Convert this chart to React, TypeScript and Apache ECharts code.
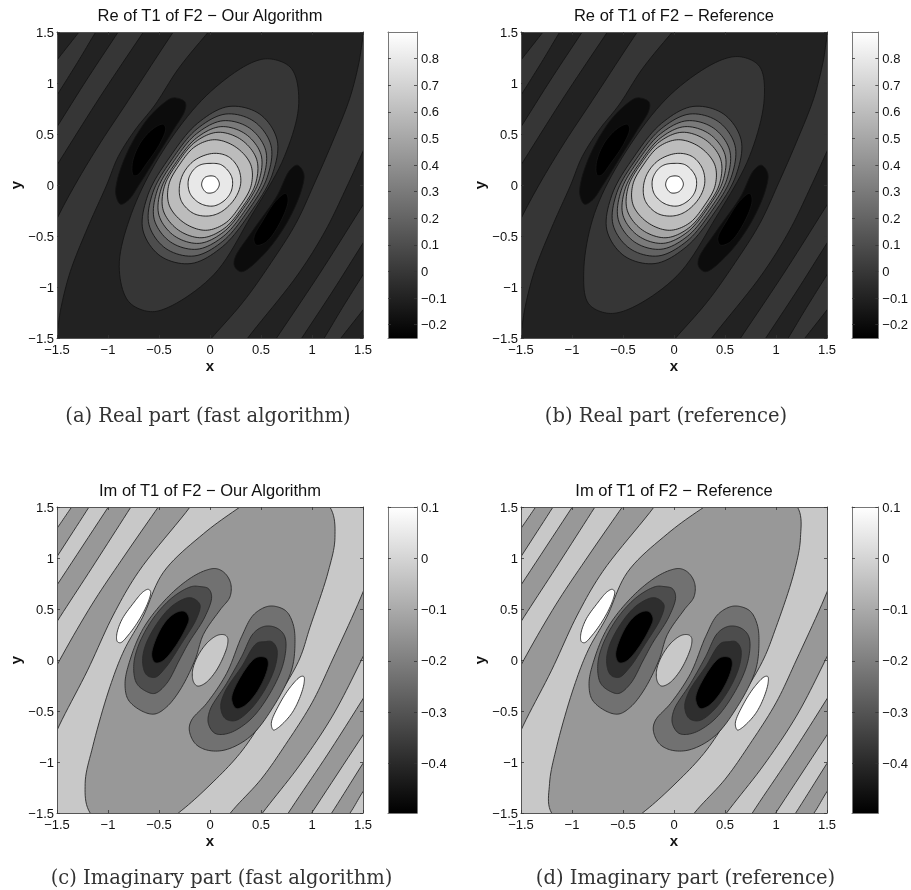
import React, { useEffect, useRef } from "react";
import * as echarts from "echarts";

type Pt = [number, number];

const reBarTicks = [-0.2, -0.1, 0, 0.1, 0.2, 0.3, 0.4, 0.5, 0.6, 0.7, 0.8];
const imBarTicks = [-0.4, -0.3, -0.2, -0.1, 0, 0.1];
const titles = [
  "Re of T1 of F2 − Our Algorithm",
  "Re of T1 of F2 − Reference",
  "Im of T1 of F2 − Our Algorithm",
  "Im of T1 of F2 − Reference",
];
const captions = [
  "(a) Real part (fast algorithm)",
  "(b) Real part (reference)",
  "(c) Imaginary part (fast algorithm)",
  "(d) Imaginary part (reference)",
];

// Grey levels of the filled contours
const reShades = ["#000000", "#0c0c0c", "#222222", "#363636", "#4d4d4d", "#636363", "#7a7a7a", "#909090", "#a6a6a6", "#bcbcbc", "#d2d2d2", "#e8e8e8", "#ffffff"];
const imShades = ["#000000", "#2e2e2e", "#4d4d4d", "#717171", "#989898", "#c8c8c8", "#ffffff"];

// Real part: diagonal contour lines (x, y)
const reL1: Pt[] = [[-1.75, 0.9], [-1.5, 1.225], [-1.284, 1.5], [-1.05, 1.8]];
const reL2: Pt[] = [[-1.75, 0.48], [-1.5, 0.88], [-1.3, 1.2], [-1.12, 1.5], [-0.9, 1.85]];
const reL3: Pt[] = [[-1.75, 0.18], [-1.5, 0.57], [-1.21, 1.03], [-0.9, 1.5], [-0.65, 1.88]];
const reL4: Pt[] = [[-1.75, -0.2], [-1.5, 0.196], [-1.077, 0.865], [-0.653, 1.5], [-0.4, 1.88]];
const reL5: Pt[] = [[-1.62, -0.6], [-1.5, -0.33], [-1.324, 0], [-1.09, 0.39], [-0.8, 0.83], [-0.36, 1.5], [-0.15, 1.8]];
const reL6: Pt[] = [[-1.56, -1.75], [-1.5, -1.45], [-1.46, -1.2], [-1.37, -0.85], [-1.2, -0.42], [-1.013, 0], [-0.9, 0.278], [-0.735, 0.539], [-0.54, 0.784], [-0.31, 1.14], [-0.016, 1.5], [0.2, 1.75]];
const reR1: Pt[] = [[1.05, -1.8], [1.284, -1.5], [1.5, -1.225], [1.75, -0.9]];
const reR2: Pt[] = [[0.9, -1.85], [1.12, -1.5], [1.3, -1.2], [1.5, -0.88], [1.75, -0.48]];
const reR3: Pt[] = [[0.65, -1.88], [0.9, -1.5], [1.21, -1.03], [1.5, -0.57], [1.75, -0.18]];
const reR4: Pt[] = [[0.4, -1.88], [0.653, -1.5], [1.077, -0.865], [1.5, -0.196], [1.75, 0.2]];
const reR5: Pt[] = [[0.15, -1.8], [0.37, -1.5], [0.86, -0.88], [1.13, -0.45], [1.34, -0.02], [1.5, 0.33], [1.62, 0.6]];
const reR6: Pt[] = [[-0.2, -1.75], [0.016, -1.5], [0.33, -1.14], [0.6, -0.76], [0.84, -0.38], [1.03, 0.03], [1.2, 0.42], [1.37, 0.85], [1.46, 1.2], [1.5, 1.45], [1.56, 1.75]];

// Real part: closed contours
const reEllipseA: Pt[] = [[0.8, 1.14], [0.6, 1.235], [0.41, 1.2], [-0.036, 0.876], [-0.467, 0.325], [-0.77, -0.28], [-0.89, -0.8], [-0.8, -1.14], [-0.6, -1.24], [-0.41, -1.2], [0.04, -0.876], [0.4, -0.31], [0.73, 0.28], [0.87, 0.8]];
const reEllipseB: Pt[] = [[0.84, 1.16], [0.66, 1.256], [0.45, 1.22], [-0.03, 0.89], [-0.47, 0.33], [-0.78, -0.28], [-0.885, -0.85], [-0.84, -1.16], [-0.66, -1.256], [-0.45, -1.22], [0.03, -0.89], [0.41, -0.32], [0.74, 0.28], [0.885, 0.85]];
const reLobeTlOuter: Pt[] = [[-0.361, 0.854], [-0.246, 0.815], [-0.246, 0.733], [-0.361, 0.537], [-0.524, 0.276], [-0.687, 0.015], [-0.801, -0.149], [-0.877, -0.188], [-0.922, -0.1], [-0.909, 0.047], [-0.801, 0.341], [-0.622, 0.635], [-0.459, 0.798]];
const reLobeTlInner: Pt[] = [[-0.459, 0.596], [-0.435, 0.553], [-0.491, 0.406], [-0.622, 0.21], [-0.713, 0.096], [-0.752, 0.096], [-0.762, 0.21], [-0.687, 0.406], [-0.556, 0.553]];
const reLobeBrOuter: Pt[] = [[0.857, 0.194], [0.919, 0.113], [0.896, -0.05], [0.75, -0.377], [0.521, -0.687], [0.309, -0.85], [0.243, -0.801], [0.243, -0.72], [0.423, -0.442], [0.652, -0.116], [0.783, 0.145]];
const reLobeBrInner: Pt[] = [[0.743, -0.083], [0.766, -0.148], [0.7, -0.344], [0.553, -0.557], [0.455, -0.589], [0.429, -0.524], [0.521, -0.344], [0.652, -0.148]];
const reRing1: Pt[] = [[0.485, 0.697], [0.186, 0.77], [-0.124, 0.603], [-0.394, 0.274], [-0.608, -0.095], [-0.658, -0.442], [-0.485, -0.697], [-0.186, -0.77], [0.124, -0.603], [0.394, -0.274], [0.608, 0.095], [0.658, 0.442]];
const reRing2: Pt[] = [[0.433, 0.623], [0.156, 0.696], [-0.126, 0.551], [-0.369, 0.257], [-0.56, -0.073], [-0.598, -0.388], [-0.433, -0.623], [-0.156, -0.696], [0.126, -0.551], [0.369, -0.257], [0.56, 0.073], [0.598, 0.388]];
const reRing3: Pt[] = [[0.388, 0.558], [0.128, 0.63], [-0.13, 0.504], [-0.349, 0.242], [-0.518, -0.054], [-0.546, -0.34], [-0.388, -0.558], [-0.128, -0.63], [0.13, -0.504], [0.349, -0.242], [0.518, 0.054], [0.546, 0.34]];
const reRing4: Pt[] = [[0.348, 0.5], [0.106, 0.572], [-0.131, 0.462], [-0.328, 0.228], [-0.479, -0.038], [-0.5, -0.298], [-0.348, -0.5], [-0.106, -0.572], [0.131, -0.462], [0.328, -0.228], [0.479, 0.038], [0.5, 0.298]];
const reRing5: Pt[] = [[0.308, 0.443], [0.079, 0.517], [-0.14, 0.425], [-0.316, 0.219], [-0.448, -0.017], [-0.457, -0.253], [-0.308, -0.443], [-0.079, -0.517], [0.14, -0.425], [0.316, -0.219], [0.448, 0.017], [0.457, 0.253]];
const reRing6: Pt[] = [[0.257, 0.369], [0.046, 0.444], [-0.147, 0.376], [-0.295, 0.205], [-0.403, 0.006], [-0.4, -0.198], [-0.257, -0.369], [-0.046, -0.444], [0.147, -0.376], [0.295, -0.205], [0.403, -0.006], [0.4, 0.198]];
const reRing7: Pt[] = [[0.033, 0.31], [0.18, 0.278], [0.278, 0.163], [0.301, 0.016], [0.245, -0.131], [0.114, -0.261], [-0.016, -0.304], [-0.163, -0.278], [-0.278, -0.163], [-0.301, -0.033], [-0.261, 0.114], [-0.147, 0.245]];
const reRing8: Pt[] = [[0, 0.212], [0.114, 0.196], [0.212, 0.082], [0.212, -0.049], [0.147, -0.147], [0.033, -0.206], [-0.098, -0.18], [-0.196, -0.082], [-0.212, 0.049], [-0.163, 0.147], [-0.098, 0.196]];
const reRing9: Pt[] = [[-0.049, 0.075], [0.049, 0.082], [0.092, 0.009], [0.049, -0.065], [-0.033, -0.075], [-0.082, 0]];

// Imaginary part: diagonal contour lines (x, y)
const imL1: Pt[] = [[-1.75, 0.93], [-1.5, 1.29], [-1.356, 1.5], [-1.15, 1.79]];
const imL2: Pt[] = [[-1.75, 0.62], [-1.5, 1.013], [-1.186, 1.5], [-0.95, 1.87]];
const imL3: Pt[] = [[-1.75, 0.355], [-1.5, 0.735], [-0.997, 1.5], [-0.75, 1.875]];
const imL4: Pt[] = [[-1.75, -0.03], [-1.5, 0.376], [-1.16, 0.9], [-0.775, 1.5], [-0.55, 1.85]];
const imL5: Pt[] = [[-1.65, -0.35], [-1.5, -0.05], [-1.16, 0.54], [-0.84, 1.02], [-0.507, 1.5], [-0.25, 1.87]];
const imL6: Pt[] = [[-1.62, -1.0], [-1.5, -0.69], [-1.2, -0.1], [-0.948, 0.441], [-0.7, 0.866], [-0.196, 1.5], [0.05, 1.85]];
const imR1: Pt[] = [[1.15, -1.79], [1.373, -1.5], [1.5, -1.29], [1.75, -0.93]];
const imR2: Pt[] = [[0.95, -1.87], [1.193, -1.5], [1.5, -1.013], [1.75, -0.62]];
const imR3: Pt[] = [[0.75, -1.875], [0.997, -1.5], [1.5, -0.735], [1.75, -0.355]];
const imR4: Pt[] = [[0.55, -1.85], [0.768, -1.5], [1.15, -0.93], [1.5, -0.38], [1.75, 0.03]];
const imR5: Pt[] = [[0.25, -1.87], [0.515, -1.5], [0.88, -1.03], [1.2, -0.55], [1.46, -0.05], [1.65, 0.35]];
const imR6: Pt[] = [[-0.05, -1.85], [0.2, -1.5], [0.5, -1.17], [0.74, -0.83], [1.0, -0.42], [1.2, 0], [1.5, 0.666], [1.62, 1.0]];

// Imaginary part: closed contours
const imEllipseC: Pt[] = [[0.75, 1.8], [0.294, 1.5], [-0.065, 1.237], [-0.457, 0.86], [-0.66, 0.42], [-0.84, 0.1], [-0.98, -0.26], [-1.15, -0.85], [-1.224, -1.21], [-1.175, -1.5], [-0.75, -1.8], [-0.31, -1.5], [0, -1.225], [0.294, -0.915], [0.539, -0.556], [0.866, -0.016], [0.98, 0.32], [1.16, 0.87], [1.225, 1.2], [1.175, 1.5]];
const imEllipseD: Pt[] = [[0.78, 1.8], [0.296, 1.5], [-0.065, 1.237], [-0.457, 0.86], [-0.66, 0.42], [-0.84, 0.1], [-0.98, -0.26], [-1.15, -0.85], [-1.22, -1.21], [-1.2, -1.5], [-0.75, -1.8], [-0.31, -1.5], [0, -1.225], [0.294, -0.915], [0.539, -0.556], [0.866, -0.016], [1.0, 0.32], [1.18, 0.87], [1.24, 1.2], [1.21, 1.5]];
const imCentre: Pt[] = [[0.17, 0.222], [0.147, 0.245], [0.082, 0.245], [-0.016, 0.18], [-0.114, 0.049], [-0.17, -0.098], [-0.163, -0.212], [-0.124, -0.255], [-0.049, -0.229], [0.065, -0.098], [0.163, 0.114], [0.176, 0.196]];
const imWhiteTl: Pt[] = [[-0.582, 0.67], [-0.605, 0.693], [-0.654, 0.67], [-0.752, 0.556], [-0.866, 0.392], [-0.915, 0.245], [-0.908, 0.18], [-0.876, 0.17], [-0.8, 0.245], [-0.686, 0.408], [-0.605, 0.572]];
const imWhiteBr: Pt[] = [[0.92, -0.163], [0.889, -0.163], [0.791, -0.261], [0.676, -0.441], [0.601, -0.621], [0.621, -0.686], [0.66, -0.67], [0.79, -0.539], [0.871, -0.392], [0.922, -0.229]];
const imTl1: Pt[] = [[0.065, 0.895], [-0.033, 0.882], [-0.196, 0.8], [-0.425, 0.605], [-0.654, 0.31], [-0.784, 0], [-0.833, -0.229], [-0.8, -0.392], [-0.654, -0.507], [-0.539, -0.529], [-0.425, -0.46], [-0.294, -0.294], [-0.147, 0], [-0.065, 0.25], [0.098, 0.49], [0.196, 0.62], [0.203, 0.75], [0.147, 0.85]];
const imTl2: Pt[] = [[-0.098, 0.72], [-0.18, 0.72], [-0.36, 0.62], [-0.556, 0.41], [-0.706, 0.131], [-0.748, -0.065], [-0.719, -0.229], [-0.621, -0.31], [-0.539, -0.327], [-0.425, -0.23], [-0.3, -0.0], [-0.212, 0.163], [-0.049, 0.425], [0.016, 0.62], [-0.016, 0.7]];
const imTl3: Pt[] = [[-0.147, 0.595], [-0.212, 0.611], [-0.36, 0.539], [-0.507, 0.376], [-0.637, 0.131], [-0.66, -0.033], [-0.621, -0.147], [-0.539, -0.17], [-0.441, -0.082], [-0.278, 0.163], [-0.131, 0.408], [-0.098, 0.539]];
const imTl4: Pt[] = [[-0.245, 0.474], [-0.31, 0.474], [-0.408, 0.408], [-0.506, 0.261], [-0.572, 0.049], [-0.539, -0.026], [-0.474, -0.016], [-0.376, 0.082], [-0.245, 0.294], [-0.206, 0.408]];
const imBr1: Pt[] = [[0.654, 0.523], [0.556, 0.523], [0.425, 0.441], [0.31, 0.229], [0.163, -0.131], [-0.033, -0.425], [-0.18, -0.588], [-0.203, -0.686], [-0.147, -0.817], [-0.033, -0.882], [0.147, -0.882], [0.392, -0.752], [0.621, -0.458], [0.8, -0.098], [0.833, 0.163], [0.817, 0.343], [0.752, 0.474]];
const imBr2: Pt[] = [[0.62, 0.327], [0.523, 0.327], [0.425, 0.261], [0.31, 0.033], [0.163, -0.229], [0, -0.49], [-0.016, -0.621], [0.049, -0.719], [0.18, -0.719], [0.392, -0.588], [0.588, -0.327], [0.719, -0.033], [0.742, 0.196], [0.703, 0.278]];
const imBr3: Pt[] = [[0.539, 0.18], [0.457, 0.163], [0.31, -0.065], [0.147, -0.31], [0.105, -0.457], [0.147, -0.572], [0.245, -0.595], [0.392, -0.49], [0.555, -0.261], [0.647, -0.033], [0.654, 0.114], [0.605, 0.18]];
const imBr4: Pt[] = [[0.507, 0.033], [0.441, 0.016], [0.31, -0.147], [0.212, -0.376], [0.255, -0.474], [0.327, -0.457], [0.441, -0.343], [0.539, -0.163], [0.572, -0.033], [0.556, 0.016]];

type Region = { lines?: [Pt[], Pt[]]; loop?: Pt[]; shade: string };
const band = (a: Pt[], b: Pt[], shade: string): Region => ({ lines: [a, b], shade });
const loop = (p: Pt[], shade: string): Region => ({ loop: p, shade });

const reRegions = (ellipse: Pt[]): Region[] => {
  const s = reShades;
  return [
    band(reL1, reL2, s[3]), band(reL3, reL4, s[3]), band(reL5, reL6, s[3]),
    band(reR1, reR2, s[3]), band(reR3, reR4, s[3]), band(reR5, reR6, s[3]),
    loop(ellipse, s[3]),
    loop(reLobeTlOuter, s[1]), loop(reLobeTlInner, s[0]),
    loop(reLobeBrOuter, s[1]), loop(reLobeBrInner, s[0]),
    loop(reRing1, s[4]), loop(reRing2, s[5]), loop(reRing3, s[6]), loop(reRing4, s[7]), loop(reRing5, s[8]),
    loop(reRing6, s[9]), loop(reRing7, s[10]), loop(reRing8, s[11]), loop(reRing9, s[12]),
  ];
};
const imRegions = (ellipse: Pt[]): Region[] => {
  const s = imShades;
  return [
    band(imL1, imL2, s[4]), band(imL3, imL4, s[4]), band(imL5, imL6, s[4]),
    band(imR1, imR2, s[4]), band(imR3, imR4, s[4]), band(imR5, imR6, s[4]),
    loop(ellipse, s[4]),
    loop(imWhiteTl, s[6]), loop(imWhiteBr, s[6]), loop(imCentre, s[5]),
    loop(imTl1, s[3]), loop(imTl2, s[2]), loop(imTl3, s[1]), loop(imTl4, s[0]),
    loop(imBr1, s[3]), loop(imBr2, s[2]), loop(imBr3, s[1]), loop(imBr4, s[0]),
  ];
};

// Centripetal Catmull-Rom sampling of pixel points, only to draw the outlines smoothly
function spline(p: number[][], closed: boolean): number[][] {
  const n = p.length;
  const out: number[][] = [];
  const at = (i: number): number[] => {
    if (closed) return p[(i + n) % n];
    if (i < 0) return [2 * p[0][0] - p[1][0], 2 * p[0][1] - p[1][1]];
    if (i > n - 1) return [2 * p[n - 1][0] - p[n - 2][0], 2 * p[n - 1][1] - p[n - 2][1]];
    return p[i];
  };
  const knot = (t: number, a: number[], b: number[]) => t + Math.max(1e-6, Math.sqrt(Math.hypot(b[0] - a[0], b[1] - a[1])));
  const lerp = (a: number[], b: number[], ta: number, tb: number, u: number) => [
    ((tb - u) * a[0] + (u - ta) * b[0]) / (tb - ta),
    ((tb - u) * a[1] + (u - ta) * b[1]) / (tb - ta),
  ];
  const segs = closed ? n : n - 1;
  for (let i = 0; i < segs; i++) {
    const [p0, p1, p2, p3] = [at(i - 1), at(i), at(i + 1), at(i + 2)];
    const t0 = 0;
    const t1 = knot(t0, p0, p1);
    const t2 = knot(t1, p1, p2);
    const t3 = knot(t2, p2, p3);
    for (let k = 0; k < 10; k++) {
      const u = t1 + ((t2 - t1) * k) / 10;
      const a1 = lerp(p0, p1, t0, t1, u);
      const a2 = lerp(p1, p2, t1, t2, u);
      const a3 = lerp(p2, p3, t2, t3, u);
      const b1 = lerp(a1, a2, t0, t2, u);
      const b2 = lerp(a2, a3, t1, t3, u);
      out.push(lerp(b1, b2, t1, t2, u));
    }
  }
  if (!closed) out.push(p[n - 1]);
  return out;
}

const fmt = (v: number) => String(Math.round(v * 10) / 10).replace("-", "−");

const panels = [
  { left: 57, top: 32, regions: reRegions(reEllipseA), bg: reShades[2], stroke: "#141414", barMin: -0.25, barMax: 0.9, barTicks: reBarTicks },
  { left: 521, top: 32, regions: reRegions(reEllipseB), bg: reShades[2], stroke: "#141414", barMin: -0.25, barMax: 0.9, barTicks: reBarTicks },
  { left: 57, top: 507, regions: imRegions(imEllipseC), bg: imShades[5], stroke: "#2a2a2a", barMin: -0.497, barMax: 0.1, barTicks: imBarTicks },
  { left: 521, top: 507, regions: imRegions(imEllipseD), bg: imShades[5], stroke: "#2a2a2a", barMin: -0.497, barMax: 0.1, barTicks: imBarTicks },
];
const captionY = [415, 415, 877, 877];
const captionX = [208, 666, 221.5, 685.5];

const SIZE = 306;
const FONT = '"Liberation Sans", Arial, sans-serif';
const tickStyle = { show: true, inside: true, length: 3, lineStyle: { color: "#333", width: 0.8 } };

function buildOption() {
  const grid: any[] = [];
  const xAxis: any[] = [];
  const yAxis: any[] = [];
  const series: any[] = [];
  const graphic: any[] = [];
  const line = { show: true, onZero: false, lineStyle: { color: "#555", width: 1 } };

  panels.forEach((p, i) => {
    const g = grid.length;
    grid.push({ left: p.left, top: p.top, width: SIZE, height: SIZE, show: true, backgroundColor: p.bg, borderWidth: 0 });
    const x0 = xAxis.length;
    const base = { type: "value", min: -1.5, max: 1.5, interval: 0.5, gridIndex: g, splitLine: { show: false }, z: 5 };
    const label = { color: "#111", fontFamily: FONT, fontSize: 13, formatter: fmt, showMinLabel: true, showMaxLabel: true };
    const nameStyle = { color: "#111", fontFamily: FONT, fontSize: 15, fontWeight: "bold" };
    xAxis.push({ ...base, position: "bottom", axisLine: line, axisTick: tickStyle, axisLabel: { ...label, margin: 5 }, name: "x", nameLocation: "middle", nameGap: 20, nameTextStyle: nameStyle });
    xAxis.push({ ...base, position: "top", axisLine: line, axisTick: tickStyle, axisLabel: { show: false } });
    const y0 = yAxis.length;
    yAxis.push({ ...base, position: "left", axisLine: line, axisTick: tickStyle, axisLabel: { ...label, margin: 3 }, name: "y", nameLocation: "middle", nameGap: 34, nameTextStyle: nameStyle });
    yAxis.push({ ...base, position: "right", axisLine: line, axisTick: tickStyle, axisLabel: { show: false } });

    const regions = p.regions;
    series.push({
      type: "custom",
      xAxisIndex: x0,
      yAxisIndex: y0,
      clip: true,
      silent: true,
      data: regions.map((r, k) => [k]),
      renderItem: (params: any, api: any) => {
        const r = regions[params.dataIndex];
        const px = (q: Pt[]) => q.map((d) => api.coord(d));
        const points = r.loop
          ? spline(px(r.loop), true)
          : spline(px(r.lines![0]), false).concat(spline(px(r.lines![1]), false).reverse());
        return { type: "polygon", shape: { points }, style: { fill: r.shade, stroke: p.stroke, lineWidth: 0.9 } };
      },
    });

    // colour bar
    const gb = grid.length;
    const barLeft = p.left + 331;
    grid.push({ left: barLeft, top: p.top, width: 29, height: SIZE });
    const bx = xAxis.length;
    const bxBase = { type: "value", min: 0, max: 1, gridIndex: gb, splitLine: { show: false }, axisTick: { show: false }, axisLabel: { show: false }, z: 5, axisLine: { ...line, lineStyle: { color: "#777", width: 1 } } };
    xAxis.push({ ...bxBase, position: "bottom" });
    xAxis.push({ ...bxBase, position: "top" });
    const by = yAxis.length;
    const byBase = { type: "value", min: p.barMin, max: p.barMax, gridIndex: gb, splitLine: { show: false }, z: 5, axisLine: { ...line, lineStyle: { color: "#777", width: 1 } } };
    const barTick = { ...tickStyle, customValues: p.barTicks };
    yAxis.push({ ...byBase, position: "right", axisTick: barTick, axisLabel: { color: "#111", fontFamily: FONT, fontSize: 13, margin: 4, customValues: p.barTicks, formatter: fmt } });
    yAxis.push({ ...byBase, position: "left", axisTick: barTick, axisLabel: { show: false } });
    series.push({
      type: "custom",
      xAxisIndex: bx,
      yAxisIndex: by,
      silent: true,
      data: [[0, p.barMin, 1, p.barMax]],
      renderItem: (params: any, api: any) => {
        const a = api.coord([api.value(0), api.value(1)]);
        const b = api.coord([api.value(2), api.value(3)]);
        return {
          type: "rect",
          shape: { x: a[0], y: b[1], width: b[0] - a[0], height: a[1] - b[1] },
          style: { fill: new echarts.graphic.LinearGradient(0, 0, 0, 1, [{ offset: 0, color: "#ffffff" }, { offset: 1, color: "#000000" }]) },
        };
      },
    });

    graphic.push({
      type: "text",
      x: p.left + SIZE / 2,
      y: p.top - 17,
      silent: true,
      style: { text: titles[i], font: `16.5px ${FONT}`, fill: "#111", textAlign: "center", textVerticalAlign: "middle" },
    });
    graphic.push({
      type: "text",
      x: captionX[i],
      y: captionY[i],
      silent: true,
      style: { text: captions[i], font: `19.5px "DejaVu Serif", serif`, fill: "#333", textAlign: "center", textVerticalAlign: "middle" },
    });
  });

  return { animation: false, backgroundColor: "#ffffff", grid, xAxis, yAxis, series, graphic };
}

export default function App() {
  const ref = useRef<HTMLDivElement>(null);
  useEffect(() => {
    const chart = echarts.init(ref.current!, undefined, { renderer: "svg" });
    chart.setOption(buildOption() as any);
    return () => chart.dispose();
  }, []);
  return <div ref={ref} style={{ position: "absolute", left: 0, top: 0, width: 911, height: 890, filter: "blur(0.5px)" }} />;
}
